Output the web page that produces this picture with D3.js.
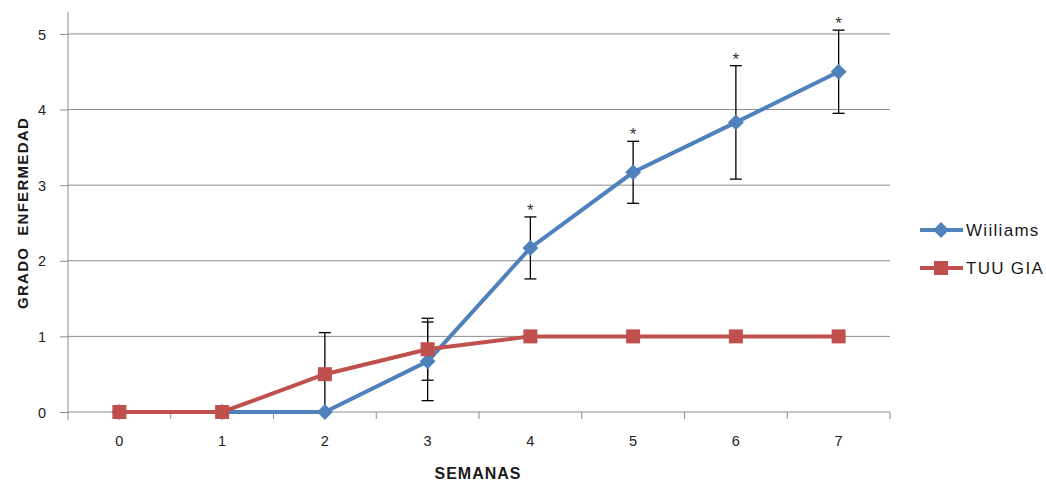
<!DOCTYPE html>
<html><head><meta charset="utf-8">
<script src="https://cdn.jsdelivr.net/npm/d3@7"></script>
<style>body{margin:0;background:#fff;} text{font-family:"Liberation Sans",Arial,sans-serif;}</style>
</head><body><svg id="c" width="1046" height="481"></svg>
<script>
const weeks = [0,1,2,3,4,5,6,7];
const williams = [0,0,0,0.67,2.17,3.17,3.83,4.5];
const williamsErr = [0,0,0,0.52,0.41,0.41,0.75,0.55];
const williamsSig = [false,false,false,false,true,true,true,true];
const tuuGia = [0,0,0.5,0.83,1,1,1,1];
const tuuGiaErr = [0,0,0.55,0.41,0,0,0,0];
const yTicks = [0,1,2,3,4,5];
const seriesNames = ["Wiiliams","TUU GIA"];
const colors = ["#4F81BD","#C0504D"];

const svg = d3.select("#c");
const L=68, R=890, T=12, B=412;
const x = d3.scaleBand().domain(weeks).range([L,R]);
const y = d3.scaleLinear().domain([0,5.29]).range([B,T]);
const cx = d => x(d)+x.bandwidth()/2;

// gridlines
svg.append("g").selectAll("line").data(yTicks.filter(d=>d>0)).join("line")
  .attr("x1",L).attr("x2",R).attr("y1",d=>y(d)).attr("y2",d=>y(d))
  .attr("stroke","#8c8c8c").attr("stroke-width",1);

// y axis
const ya = svg.append("g").attr("transform",`translate(${L},0)`)
  .call(d3.axisLeft(y).tickValues(yTicks).tickSize(8).tickPadding(14).tickFormat(d3.format("d")));
ya.select(".domain").remove();
ya.selectAll("line").attr("stroke","#8c8c8c");
ya.selectAll("text").attr("font-size",14.5).attr("fill","#222").attr("dy","0.35em");
svg.append("line").attr("x1",L).attr("x2",L).attr("y1",T).attr("y2",B+8).attr("stroke","#8c8c8c");

// x axis
svg.append("line").attr("x1",L).attr("x2",R).attr("y1",B).attr("y2",B).attr("stroke","#8c8c8c");
svg.append("g").selectAll("line").data(weeks.slice(1).concat([null])).join("line")
  .attr("x1",(d,i)=>x(weeks[0])+x.step()*(i+1)).attr("x2",(d,i)=>x(weeks[0])+x.step()*(i+1))
  .attr("y1",B).attr("y2",B+7).attr("stroke","#8c8c8c");
svg.append("g").selectAll("text").data(weeks).join("text")
  .attr("x",d=>cx(d)).attr("y",446).attr("text-anchor","middle")
  .attr("font-size",14.5).attr("fill","#222").text(d=>d);

// axis titles
svg.append("text").attr("x",478).attr("y",479).attr("text-anchor","middle")
  .attr("font-size",16).attr("font-weight","bold").attr("letter-spacing","1px").attr("fill","#1a1a1a").text("SEMANAS");
svg.append("text").attr("transform",`translate(28,213) rotate(-90)`).attr("text-anchor","middle")
  .attr("font-size",15).attr("font-weight","bold").attr("letter-spacing","1.3px").attr("fill","#1a1a1a")
  .attr("xml:space","preserve").style("white-space","pre").text("GRADO  ENFERMEDAD");

// error bars
function errBars(vals, errs){
  const g = svg.append("g");
  weeks.forEach((w,i)=>{
    if(!errs[i]) return;
    const top = y(vals[i]+errs[i]);
    const bot = y(Math.max(0, vals[i]-errs[i]));
    g.append("line").attr("x1",cx(w)).attr("x2",cx(w)).attr("y1",top).attr("y2",bot).attr("stroke","#000").attr("stroke-width",1.3);
    g.append("line").attr("x1",cx(w)-6).attr("x2",cx(w)+6).attr("y1",top).attr("y2",top).attr("stroke","#000").attr("stroke-width",1.3);
    if(vals[i]-errs[i] > 0)
      g.append("line").attr("x1",cx(w)-6).attr("x2",cx(w)+6).attr("y1",bot).attr("y2",bot).attr("stroke","#000").attr("stroke-width",1.3);
  });
}
errBars(tuuGia, tuuGiaErr);
errBars(williams, williamsErr);

const line = d3.line().x((d,i)=>cx(weeks[i])).y(d=>y(d));
// Williams
svg.append("path").datum(williams).attr("d",line).attr("fill","none").attr("stroke",colors[0]).attr("stroke-width",4);
const diamond = d3.symbol().type(d3.symbolDiamond2).size(160);
svg.append("g").selectAll("path").data(williams).join("path")
  .attr("d",diamond).attr("transform",(d,i)=>`translate(${cx(weeks[i])},${y(d)})`).attr("fill",colors[0]);
// TUU GIA
svg.append("path").datum(tuuGia).attr("d",line).attr("fill","none").attr("stroke",colors[1]).attr("stroke-width",4);
svg.append("g").selectAll("rect").data(tuuGia).join("rect")
  .attr("x",(d,i)=>cx(weeks[i])-7).attr("y",d=>y(d)-7).attr("width",14).attr("height",14).attr("fill",colors[1]);

// significance stars
svg.append("g").selectAll("text").data(weeks.filter((w,i)=>williamsSig[i])).join("text")
  .attr("x",d=>cx(d)).attr("y",d=>y(williams[d]+williamsErr[d])-1).attr("text-anchor","middle")
  .attr("font-size",17).attr("fill","#333").text("*");

// legend
const lg = svg.append("g");
seriesNames.forEach((n,i)=>{
  const ly = 230 + i*38;
  lg.append("line").attr("x1",920).attr("x2",963).attr("y1",ly).attr("y2",ly).attr("stroke",colors[i]).attr("stroke-width",4);
  if(i===0) lg.append("path").attr("d",diamond).attr("transform",`translate(941,${ly})`).attr("fill",colors[i]);
  else lg.append("rect").attr("x",934).attr("y",ly-7).attr("width",14).attr("height",14).attr("fill",colors[i]);
  lg.append("text").attr("x",966).attr("y",ly+6).attr("font-size",17).attr("letter-spacing","1.3px").attr("fill","#1a1a1a").text(n);
});
</script></body></html>
